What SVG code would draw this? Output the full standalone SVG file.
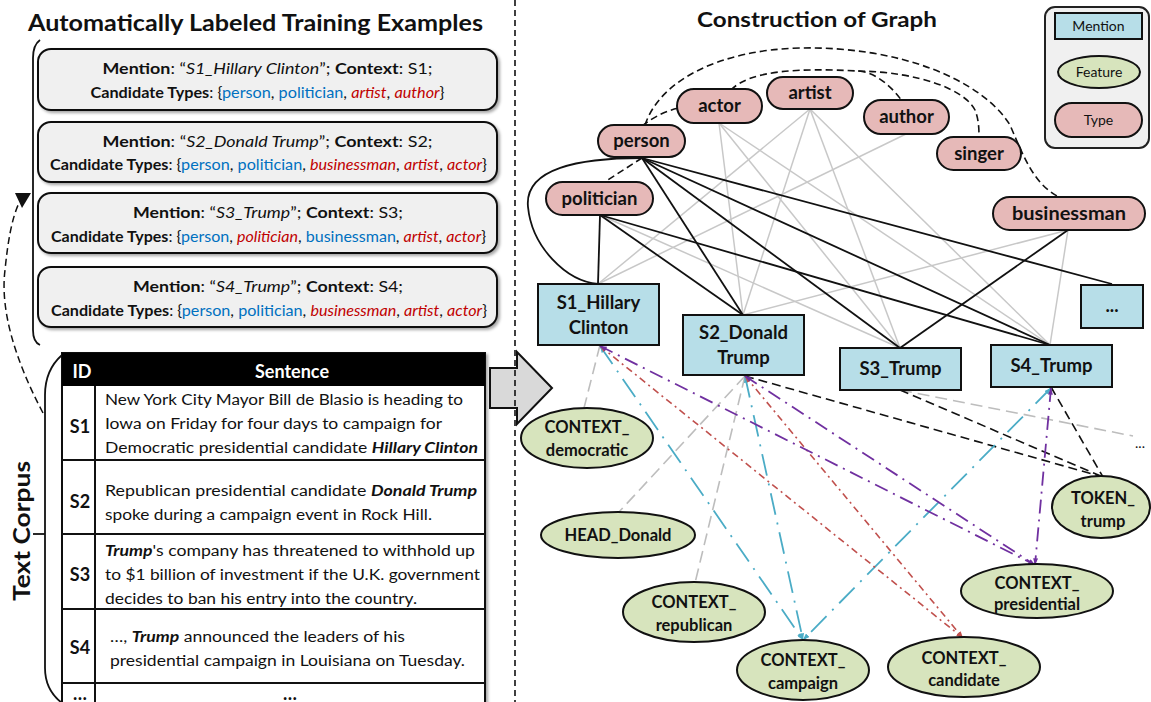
<svg xmlns="http://www.w3.org/2000/svg" width="1151" height="702" viewBox="0 0 1151 702">
  <style>
    text { font-family: Lato, "Liberation Sans", sans-serif; fill: #111; }
    .title { font-size: 22px; font-weight: bold; }
    .box { fill: #f0f0f0; stroke: #111; stroke-width: 2; }
    .bt { font-size: 15px; text-anchor: middle; }
    .b { font-weight: bold; }
    .i { font-style: italic; }
    .ok { fill: #0070c0; }
    .bad { fill: #c00000; font-style: italic; }
    .row { font-size: 15.5px; }
    .rid { font-size: 18px; font-weight: bold; text-anchor: middle; }
    .type { fill: #e6b9b8; stroke: #111; stroke-width: 2; }
    .mention { fill: #b7dee8; stroke: #111; stroke-width: 2; }
    .feature { fill: #d7e4bd; stroke: #111; stroke-width: 2; }
    .nl { font-size: 18.5px; font-weight: bold; text-anchor: middle; }
    .fl { font-size: 16.5px; font-weight: bold; text-anchor: middle; }
    .gray { stroke: #c8c8c8; stroke-width: 1.5; fill: none; }
    .blk { stroke: #111; stroke-width: 1.8; fill: none; }
    .hier { stroke: #111; stroke-width: 1.6; fill: none; stroke-dasharray: 7 4; }
    .gdash { stroke: #bdbdbd; stroke-width: 1.6; fill: none; stroke-dasharray: 12 6; }
    .kdash { stroke: #111; stroke-width: 1.6; fill: none; stroke-dasharray: 9 5; }
    .blue { stroke: #4bacc6; stroke-width: 1.8; fill: none; stroke-dasharray: 22 8 2 8; }
    .red { stroke: #c0504d; stroke-width: 1.6; fill: none; stroke-dasharray: 7 4 2 4; }
    .purple { stroke: #7030a0; stroke-width: 1.8; fill: none; stroke-dasharray: 14 6 2 6; }
  </style>
  <defs>
    <filter id="shadow" x="-10%" y="-10%" width="130%" height="140%">
      <feDropShadow dx="2" dy="2" stdDeviation="1.5" flood-color="#000" flood-opacity="0.35"/>
    </filter>
    <marker id="mBlue" viewBox="0 0 8 6" markerWidth="7" markerHeight="5" refX="8" refY="3" orient="auto-start-reverse" markerUnits="userSpaceOnUse">
      <path d="M0,0 L8,3 L0,6 z" fill="#4bacc6"/>
    </marker>
    <marker id="mRed" viewBox="0 0 8 6" markerWidth="7" markerHeight="5" refX="8" refY="3" orient="auto-start-reverse" markerUnits="userSpaceOnUse">
      <path d="M0,0 L8,3 L0,6 z" fill="#c0504d"/>
    </marker>
    <marker id="mPurple" viewBox="0 0 8 6" markerWidth="7" markerHeight="5" refX="8" refY="3" orient="auto-start-reverse" markerUnits="userSpaceOnUse">
      <path d="M0,0 L8,3 L0,6 z" fill="#7030a0"/>
    </marker>
  </defs>

  <rect width="1151" height="702" fill="#ffffff"/>

  <!-- ===== Left panel: training examples ===== -->
  <text class="title" x="255.5" y="31" text-anchor="middle" textLength="455" lengthAdjust="spacingAndGlyphs">Automatically Labeled Training Examples</text>

  <!-- bracket grouping the examples -->
  <path d="M40,40 Q33,45 33,58 L33,330 Q33,342 40,345" fill="none" stroke="#111" stroke-width="1.8"/>

  <g id="example1" filter="url(#shadow)">
    <rect class="box" x="38" y="49" width="459" height="61" rx="13"/>
  </g>
  <text class="bt" x="267.5" y="74" textLength="330" lengthAdjust="spacingAndGlyphs"><tspan class="b">Mention</tspan>: “<tspan class="i">S1_Hillary Clinton</tspan>”; <tspan class="b">Context</tspan>: S1;</text>
  <text class="bt" x="267.5" y="98" textLength="354" lengthAdjust="spacingAndGlyphs"><tspan class="b">Candidate Types</tspan>: {<tspan class="ok">person</tspan>, <tspan class="ok">politician</tspan>, <tspan class="bad">artist</tspan>, <tspan class="bad">author</tspan>}</text>

  <g id="example2" filter="url(#shadow)">
    <rect class="box" x="38" y="122" width="459" height="60" rx="13"/>
  </g>
  <text class="bt" x="267.5" y="147" textLength="330" lengthAdjust="spacingAndGlyphs"><tspan class="b">Mention</tspan>: “<tspan class="i">S2_Donald Trump</tspan>”; <tspan class="b">Context</tspan>: S2;</text>
  <text class="bt" x="268.5" y="170" textLength="437" lengthAdjust="spacingAndGlyphs"><tspan class="b">Candidate Types</tspan>: {<tspan class="ok">person</tspan>, <tspan class="ok">politician</tspan>, <tspan class="bad">businessman</tspan>, <tspan class="bad">artist</tspan>, <tspan class="bad">actor</tspan>}</text>

  <g id="example3" filter="url(#shadow)">
    <rect class="box" x="38" y="193" width="459" height="60" rx="13"/>
  </g>
  <text class="bt" x="268" y="218" textLength="270" lengthAdjust="spacingAndGlyphs"><tspan class="b">Mention</tspan>: “<tspan class="i">S3_Trump</tspan>”; <tspan class="b">Context</tspan>: S3;</text>
  <text class="bt" x="268.5" y="242" textLength="435" lengthAdjust="spacingAndGlyphs"><tspan class="b">Candidate Types</tspan>: {<tspan class="ok">person</tspan>, <tspan class="bad">politician</tspan>, <tspan class="ok">businessman</tspan>, <tspan class="bad">artist</tspan>, <tspan class="bad">actor</tspan>}</text>

  <g id="example4" filter="url(#shadow)">
    <rect class="box" x="38" y="267" width="459" height="60" rx="13"/>
  </g>
  <text class="bt" x="268" y="292" textLength="270" lengthAdjust="spacingAndGlyphs"><tspan class="b">Mention</tspan>: “<tspan class="i">S4_Trump</tspan>”; <tspan class="b">Context</tspan>: S4;</text>
  <text class="bt" x="269" y="316" textLength="436" lengthAdjust="spacingAndGlyphs"><tspan class="b">Candidate Types</tspan>: {<tspan class="ok">person</tspan>, <tspan class="ok">politician</tspan>, <tspan class="bad">businessman</tspan>, <tspan class="bad">artist</tspan>, <tspan class="bad">actor</tspan>}</text>

  <!-- dashed labeling arrow from the corpus up to the examples -->
  <path d="M43,413 C 15,360 0,310 5,270 C 8,240 12,218 19,203" fill="none" stroke="#111" stroke-width="1.5" stroke-dasharray="7 4"/>
  <polygon points="31,193 15,193 22,208" fill="#111"/>

  <!-- ===== Text corpus table ===== -->
  <path d="M62,355 Q45,370 45,395 L45,668 Q45,690 62,703" fill="none" stroke="#111" stroke-width="1.8"/>
  <line x1="33" y1="534" x2="45" y2="534" stroke="#111" stroke-width="1.8"/>
  <text x="22" y="531" transform="rotate(-90 22 531)" dy="8" text-anchor="middle" font-size="22" font-weight="bold" textLength="140" lengthAdjust="spacingAndGlyphs">Text Corpus</text>

  <g id="corpus">
    <rect x="62" y="353" width="423" height="360" fill="#fff" stroke="#111" stroke-width="2" filter="url(#shadow)"/>
    <rect x="62" y="353" width="423" height="33" fill="#000"/>
    <text x="82" y="378" text-anchor="middle" font-size="18" font-weight="bold" style="fill:#fff">ID</text>
    <text x="292" y="378" text-anchor="middle" font-size="18" font-weight="bold" style="fill:#fff">Sentence</text>
    <g stroke="#111" stroke-width="2">
      <line x1="95" y1="386" x2="95" y2="702"/>
      <line x1="62" y1="460" x2="485" y2="460"/>
      <line x1="62" y1="534" x2="485" y2="534"/>
      <line x1="62" y1="609" x2="485" y2="609"/>
      <line x1="62" y1="683" x2="485" y2="683"/>
    </g>
    <text class="rid" x="80" y="433">S1</text>
    <text class="rid" x="80" y="508">S2</text>
    <text class="rid" x="80" y="581">S3</text>
    <text class="rid" x="80" y="654">S4</text>
    <text class="rid" x="80" y="700">…</text>
    <text class="rid" x="290" y="700">…</text>

    <text class="row" x="105" y="405" textLength="358" lengthAdjust="spacingAndGlyphs">New York City Mayor Bill de Blasio is heading to</text>
    <text class="row" x="105" y="429" textLength="337" lengthAdjust="spacingAndGlyphs">Iowa on Friday for four days to campaign for</text>
    <text class="row" x="105" y="453" textLength="373" lengthAdjust="spacingAndGlyphs">Democratic presidential candidate <tspan class="b i">Hillary Clinton</tspan></text>

    <text class="row" x="105" y="496" textLength="372" lengthAdjust="spacingAndGlyphs">Republican presidential candidate <tspan class="b i">Donald Trump</tspan></text>
    <text class="row" x="105" y="520" textLength="327" lengthAdjust="spacingAndGlyphs">spoke during a campaign event in Rock Hill.</text>

    <text class="row" x="105" y="556" textLength="370" lengthAdjust="spacingAndGlyphs"><tspan class="b i">Trump</tspan>'s company has threatened to withhold up</text>
    <text class="row" x="105" y="580" textLength="375" lengthAdjust="spacingAndGlyphs">to $1 billion of investment if the U.K. government</text>
    <text class="row" x="105" y="604" textLength="312" lengthAdjust="spacingAndGlyphs">decides to ban his entry into the country.</text>

    <text class="row" x="110" y="642" textLength="295" lengthAdjust="spacingAndGlyphs">…, <tspan class="b i">Trump</tspan> announced the leaders of his</text>
    <text class="row" x="110" y="666" textLength="355" lengthAdjust="spacingAndGlyphs">presidential campaign in Louisiana on Tuesday.</text>
  </g>

  <!-- block arrow between panels -->
  <path d="M490,368 H517 V352 L552,388 L517,424 V408 H490 Z" fill="#d9d9d9" stroke="#111" stroke-width="2"/>

  <!-- panel divider -->
  <line x1="515" y1="0" x2="515" y2="702" stroke="#111" stroke-width="1.6" stroke-dasharray="6 4"/>

  <!-- ===== Right panel: graph ===== -->
  <text x="817" y="27" text-anchor="middle" font-size="20" font-weight="bold" textLength="240" lengthAdjust="spacingAndGlyphs">Construction of Graph</text>

  <g id="legend">
    <rect x="1045" y="7" width="104" height="141" rx="10" fill="#f0f0f0" stroke="#222" stroke-width="2"/>
    <rect class="mention" x="1055" y="13" width="87" height="26"/>
    <text x="1098.5" y="31" text-anchor="middle" font-size="14">Mention</text>
    <ellipse class="feature" cx="1099" cy="72" rx="41" ry="16"/>
    <text x="1099" y="77" text-anchor="middle" font-size="14">Feature</text>
    <rect class="type" x="1055" y="103" width="87" height="34" rx="17"/>
    <text x="1098.5" y="125" text-anchor="middle" font-size="14">Type</text>
  </g>

  <g id="connectors">
    <!-- incorrect candidate types -->
    <g class="gray">
      <line x1="810" y1="109" x2="598" y2="284"/>
      <line x1="906" y1="134" x2="598" y2="284"/>
      <line x1="719" y1="123" x2="743" y2="315"/>
      <line x1="810" y1="109" x2="743" y2="315"/>
      <line x1="1068" y1="230" x2="743" y2="315"/>
      <line x1="600" y1="215" x2="900" y2="348"/>
      <line x1="719" y1="123" x2="900" y2="348"/>
      <line x1="810" y1="109" x2="900" y2="348"/>
      <line x1="719" y1="123" x2="1050" y2="345"/>
      <line x1="810" y1="109" x2="1050" y2="345"/>
      <line x1="1068" y1="230" x2="1050" y2="345"/>
    </g>
    <!-- correct types -->
    <g class="blk">
      <path d="M642,158 C 580,158 524,168 528,207 C 532,247 566,281 598,284"/>
      <line x1="642" y1="158" x2="743" y2="315"/>
      <line x1="642" y1="158" x2="900" y2="348"/>
      <line x1="642" y1="158" x2="1050" y2="345"/>
      <line x1="642" y1="158" x2="1112" y2="284"/>
      <line x1="600" y1="215" x2="598" y2="284"/>
      <line x1="600" y1="215" x2="743" y2="315"/>
      <line x1="600" y1="215" x2="1050" y2="345"/>
      <line x1="1068" y1="230" x2="900" y2="348"/>
    </g>
    <!-- type hierarchy -->
    <g class="hier">
      <path d="M642,126 Q660,112 679,108"/>
      <path d="M645,125 C 660,80 720,50 800,48 C 900,46 982,80 1010,125 C 1025,160 1035,186 1061,198"/>
      <path d="M731,90 C 750,70 800,68 858,71 C 876,72 893,88 902,101"/>
      <path d="M858,71 C 920,72 965,90 975,110 C 979,120 979,130 979,138"/>
      <line x1="642" y1="158" x2="603" y2="183"/>
    </g>
    <!-- mention to feature -->
    <line class="gdash" x1="600" y1="345" x2="584" y2="408"/>
    <line class="gdash" x1="745" y1="376" x2="619" y2="512"/>
    <line class="gdash" x1="745" y1="376" x2="695" y2="583"/>
    <line class="gdash" x1="900" y1="390" x2="1133" y2="436"/>
    <line class="kdash" x1="745" y1="376" x2="1103" y2="477"/>
    <line class="kdash" x1="900" y1="390" x2="1103" y2="477"/>
    <line class="kdash" x1="1051" y1="387" x2="1103" y2="477"/>
    <line class="blue" x1="600" y1="346" x2="803" y2="640" marker-start="url(#mBlue)" marker-end="url(#mBlue)"/>
    <line class="blue" x1="745" y1="376" x2="803" y2="640" marker-start="url(#mBlue)" marker-end="url(#mBlue)"/>
    <line class="blue" x1="1051" y1="388" x2="803" y2="640" marker-start="url(#mBlue)" marker-end="url(#mBlue)"/>
    <line class="red" x1="600" y1="346" x2="963" y2="638" marker-start="url(#mRed)" marker-end="url(#mRed)"/>
    <line class="red" x1="745" y1="376" x2="963" y2="638" marker-start="url(#mRed)" marker-end="url(#mRed)"/>
    <line class="purple" x1="600" y1="346" x2="1035" y2="565" marker-start="url(#mPurple)" marker-end="url(#mPurple)"/>
    <line class="purple" x1="745" y1="376" x2="1035" y2="565" marker-start="url(#mPurple)" marker-end="url(#mPurple)"/>
    <line class="purple" x1="1051" y1="388" x2="1035" y2="565" marker-start="url(#mPurple)" marker-end="url(#mPurple)"/>
  </g>
  <text x="1140" y="448" text-anchor="middle" font-size="14">...</text>

  <!-- type nodes -->
  <g id="t-person"><rect class="type" x="598" y="125" width="87" height="32" rx="16"/><text class="nl" x="641.5" y="147">person</text></g>
  <g id="t-actor"><rect class="type" x="677" y="89" width="85" height="34" rx="17"/><text class="nl" x="719.5" y="112">actor</text></g>
  <g id="t-artist"><rect class="type" x="767" y="77" width="86" height="32" rx="16"/><text class="nl" x="810" y="99">artist</text></g>
  <g id="t-author"><rect class="type" x="864" y="100" width="85" height="34" rx="17"/><text class="nl" x="906.5" y="123">author</text></g>
  <g id="t-singer"><rect class="type" x="937" y="137" width="84" height="33" rx="16.5"/><text class="nl" x="979" y="160">singer</text></g>
  <g id="t-politician"><rect class="type" x="546" y="182" width="107" height="33" rx="16.5"/><text class="nl" x="599.5" y="205">politician</text></g>
  <g id="t-businessman"><rect class="type" x="993" y="197" width="152" height="33" rx="16.5"/><text class="nl" x="1069" y="220" textLength="114" lengthAdjust="spacingAndGlyphs">businessman</text></g>

  <!-- mention nodes -->
  <g id="m-s1"><rect class="mention" x="538" y="284" width="121" height="61"/><text class="nl" x="598.5" y="309">S1_Hillary</text><text class="nl" x="598.5" y="334">Clinton</text></g>
  <g id="m-s2"><rect class="mention" x="683" y="315" width="121" height="60"/><text class="nl" x="743.5" y="339">S2_Donald</text><text class="nl" x="743.5" y="364">Trump</text></g>
  <g id="m-s3"><rect class="mention" x="840" y="348" width="121" height="42"/><text class="nl" x="900.5" y="375">S3_Trump</text></g>
  <g id="m-s4"><rect class="mention" x="991" y="345" width="121" height="42"/><text class="nl" x="1051.5" y="372">S4_Trump</text></g>
  <g id="m-more"><rect class="mention" x="1081" y="285" width="62" height="43"/><text class="nl" x="1112" y="312">...</text></g>

  <!-- feature nodes -->
  <g id="f-democratic"><ellipse class="feature" cx="587" cy="438" rx="66" ry="30"/><text class="fl" x="587" y="433">CONTEXT_</text><text class="fl" x="587" y="456">democratic</text></g>
  <g id="f-head-donald"><ellipse class="feature" cx="618" cy="535" rx="77" ry="23"/><text class="fl" x="618" y="541">HEAD_Donald</text></g>
  <g id="f-republican"><ellipse class="feature" cx="694" cy="612" rx="71" ry="30"/><text class="fl" x="694" y="608">CONTEXT_</text><text class="fl" x="694" y="631">republican</text></g>
  <g id="f-campaign"><ellipse class="feature" cx="803" cy="670" rx="66" ry="30"/><text class="fl" x="803" y="666">CONTEXT_</text><text class="fl" x="803" y="689">campaign</text></g>
  <g id="f-candidate"><ellipse class="feature" cx="964" cy="667" rx="76" ry="30"/><text class="fl" x="964" y="664">CONTEXT_</text><text class="fl" x="964" y="686">candidate</text></g>
  <g id="f-presidential"><ellipse class="feature" cx="1037" cy="591" rx="76" ry="27"/><text class="fl" x="1037" y="589">CONTEXT_</text><text class="fl" x="1037" y="610">presidential</text></g>
  <g id="f-token-trump"><ellipse class="feature" cx="1101" cy="507" rx="49" ry="31"/><text class="fl" x="1103" y="504">TOKEN_</text><text class="fl" x="1103" y="527">trump</text></g>
</svg>
